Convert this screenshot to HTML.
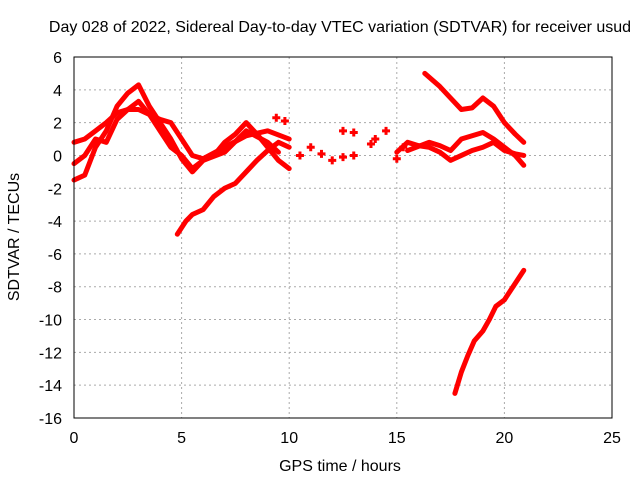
<!DOCTYPE html>
<html><head><meta charset="utf-8"><style>
body{margin:0;background:#fff}
svg text{font-family:"Liberation Sans",sans-serif;font-size:16px;fill:#000}
</style></head><body>
<svg id="chart" width="640" height="480" xmlns="http://www.w3.org/2000/svg">
<rect width="640" height="480" fill="#fff"/>
<g id="grid"></g>
<g id="ticks"></g>
<g id="marks"></g>
<rect x="74" y="57" width="538" height="361" fill="none" stroke="#000" stroke-width="1"/>
<text x="340" y="32" text-anchor="middle">Day 028 of 2022, Sidereal Day-to-day VTEC variation (SDTVAR) for receiver usud</text>
<text x="340" y="471" text-anchor="middle">GPS time / hours</text>
<text transform="translate(19,237) rotate(-90)" text-anchor="middle">SDTVAR / TECUs</text>
</svg>
<script>
const xTicks=[0,5,10,15,20,25];
const yTicks=[6,4,2,0,-2,-4,-6,-8,-10,-12,-14,-16];
const trackA=[[0,-1.5],[0.5,-1.2],[1,0.5],[1.5,1.5],[2,3],[2.5,3.8],[3,4.3],[3.5,3],[4,2],[4.5,1],[5,-0.2],[5.5,-1],[6,-0.3],[6.5,0],[7,0.8],[7.5,1.3],[8,2],[8.5,1.3],[9,0.5],[9.5,-0.3],[10,-0.8]];
const trackB=[[0,0.8],[0.5,1],[1,1.5],[1.5,2],[2,2.6],[2.5,2.8],[3,2.8],[3.5,2.5],[4,2.2],[4.5,2],[5,1],[5.5,0],[6,-0.2],[7,0.5],[8,1.2],[9,1.5],[10,1]];
const trackC=[[0,-0.5],[0.5,0],[1,1],[1.5,0.8],[2,2.2],[2.5,2.8],[3,3.3],[3.5,2.5],[4,1.5],[4.5,0.5],[5,0],[5.5,-0.8],[6,-0.3],[7,0.2],[8,1.5],[9,0.8],[9.5,0.2]];
const trackD=[[4.8,-4.8],[5.2,-4],[5.5,-3.6],[6,-3.3],[6.5,-2.5],[7,-2],[7.5,-1.7],[8,-1],[8.5,-0.3],[9,0.3],[9.5,0.8],[10,0.5]];
const trackE=[[16.3,5],[17,4.2],[17.5,3.5],[18,2.8],[18.5,2.9],[19,3.5],[19.5,3],[20,2],[20.5,1.3],[20.9,0.8]];
const trackF=[[15,0.2],[15.5,0.8],[16,0.6],[16.5,0.5],[17,0.2],[17.5,-0.3],[18,0],[18.5,0.3],[19,0.5],[19.5,0.8],[20,0.3],[20.5,0.1],[20.9,0]];
const trackG=[[15.5,0.3],[16.5,0.8],[17,0.6],[17.5,0.3],[18,1],[18.5,1.2],[19,1.4],[19.5,1],[20,0.5],[20.5,0],[20.9,-0.6]];
const trackH=[[17.7,-14.5],[18,-13.2],[18.3,-12.2],[18.6,-11.3],[19,-10.7],[19.3,-10],[19.6,-9.2],[20,-8.8],[20.4,-8],[20.9,-7]];
const scatter=[[9.4,2.3],[9.8,2.1],[10.5,0],[11,0.5],[11.5,0.1],[12,-0.3],[12.5,1.5],[13,1.4],[12.5,-0.1],[13,0],[13.8,0.7],[14,1],[14.5,1.5],[15,-0.2],[15.3,0.5]];
const tracks=[trackA,trackB,trackC,trackD,trackE,trackF,trackG,trackH];
const NS="http://www.w3.org/2000/svg";
const X=v=>74+(v-0)*538/25;
const Y=v=>57+(6-v)*361/22;
function mk(tag,attrs,parent){const e=document.createElementNS(NS,tag);for(const k in attrs)e.setAttribute(k,attrs[k]);parent.appendChild(e);return e;}
const grid=document.getElementById('grid'),ticks=document.getElementById('ticks'),marks=document.getElementById('marks');
xTicks.forEach(t=>{
  const l=mk('line',{x1:X(t),x2:X(t),y1:57,y2:418,stroke:'#aaa','stroke-dasharray':'2,3'},grid);
  
  
  const tx=mk('text',{x:X(t),y:443,'text-anchor':'middle'},ticks);tx.textContent=t;
  
  
});
yTicks.forEach(t=>{
  const l=mk('line',{x1:74,x2:612,y1:Y(t),y2:Y(t),stroke:'#aaa','stroke-dasharray':'2,3'},grid);
  
  
  const tx=mk('text',{x:62,y:Y(t)+6,'text-anchor':'end'},ticks);tx.textContent=t;
  
  
});
tracks.forEach(tr=>{
  const p=mk('polyline',{points:tr.map(d=>X(d[0])+','+Y(d[1])).join(' '),fill:'none',stroke:'#f00','stroke-width':5,'stroke-linejoin':'round','stroke-linecap':'round'},marks);
  
  
});
scatter.forEach(d=>{
  const g=mk('path',{d:`M${X(d[0])-4},${Y(d[1])}h8M${X(d[0])},${Y(d[1])-4}v8`,stroke:'#f00','stroke-width':3},marks);
  
  
});
</script>
</body></html>
